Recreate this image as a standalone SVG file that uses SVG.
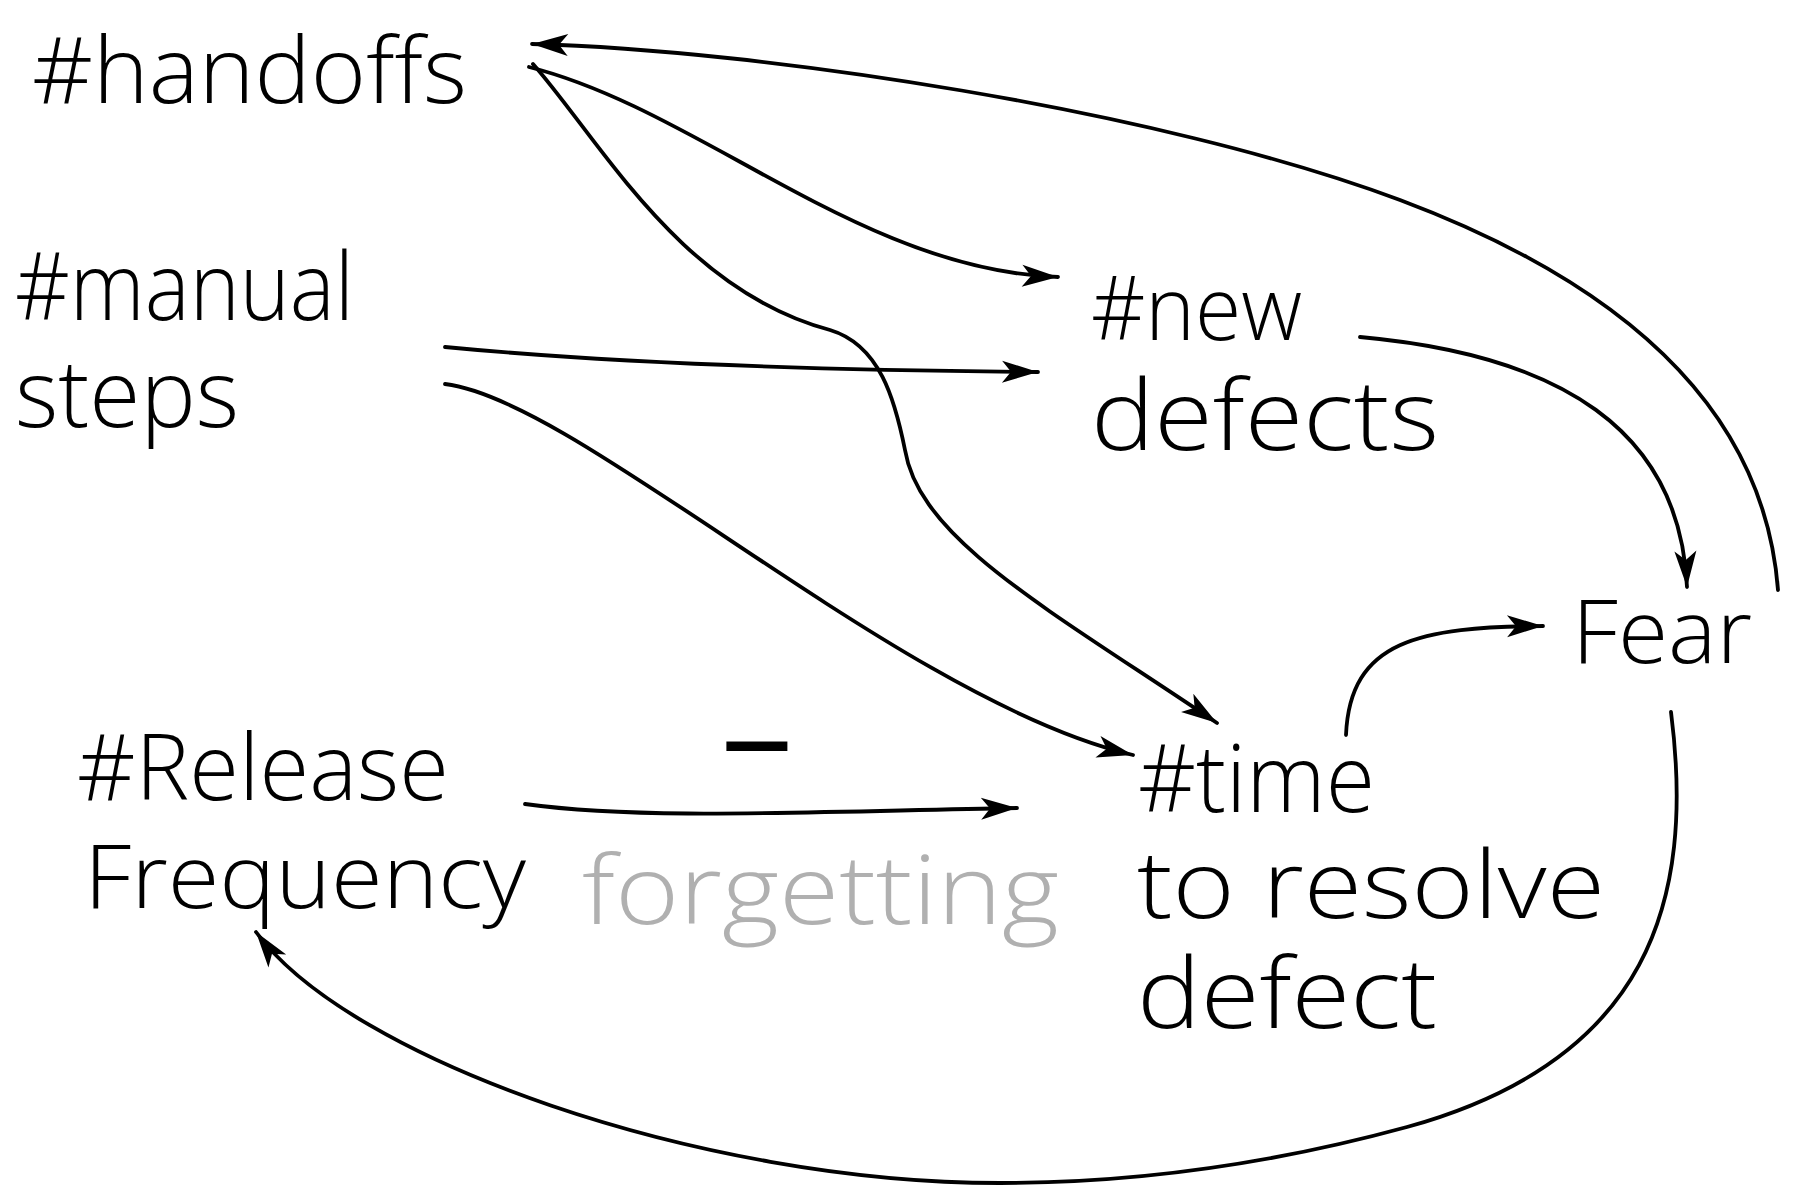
<svg xmlns="http://www.w3.org/2000/svg" width="1797" height="1191" viewBox="0 0 1797 1191">
  <style>
    .lbl { font-family: "Open Sans", "DejaVu Sans", sans-serif; font-weight: 300; fill: #000; }
    .note { font-family: "Open Sans", "DejaVu Sans", sans-serif; font-weight: 300; fill: #b0b0b0; }
    .sign { font-family: "Liberation Sans", Arial, sans-serif; font-weight: bold; fill: #000; }
    .edge { fill: none; stroke: #000; stroke-width: 3.8; stroke-linecap: round; }
    .arrow { marker-end: url(#head); }
  </style>
  <defs>
    <marker id="head" markerUnits="userSpaceOnUse" orient="auto" refX="0" refY="0"
            markerWidth="40" markerHeight="30" viewBox="-40 -15 40 30" overflow="visible">
      <path d="M0,0 L-36,-11 L-27,0 L-36,11 Z" fill="#000"/>
    </marker>
  </defs>
  <rect width="1797" height="1191" fill="#fff"/>

  <!-- connectors -->
  <g id="connectors">
    <!-- Fear -> #handoffs -->
    <path class="edge arrow" d="M1778,590 C1765,420 1640,290 1400,200 C1160,110 760,50 532,44"/>
    <!-- #handoffs -> #new defects -->
    <path class="edge arrow" d="M529,67 C700,110 860,270 1058,277"/>
    <!-- #handoffs -> #time to resolve defect -->
    <path class="edge arrow" d="M533,64 C600,140 680,290 830,330 C880,345 895,400 905,450 C920,540 1050,610 1217,723"/>
    <!-- #manual steps -> #new defects -->
    <path class="edge arrow" d="M445,347 C600,362 800,370 1038,372"/>
    <!-- #manual steps -> #time to resolve defect -->
    <path class="edge arrow" d="M445,384 C580,400 900,700 1133,755"/>
    <!-- #Release Frequency -> #time to resolve defect (forgetting) -->
    <path class="edge arrow" d="M525,804 C640,820 800,812 1017,808"/>
    <!-- #time to resolve defect -> Fear -->
    <path class="edge arrow" d="M1346,735 C1350,640 1420,627 1543,626"/>
    <!-- #new defects -> Fear -->
    <path class="edge arrow" d="M1360,337 C1560,355 1680,430 1687,587"/>
    <!-- Fear -> #Release Frequency -->
    <path class="edge arrow" d="M1671,712 C1695,900 1650,1060 1407,1127 C1290,1159 1150,1183 1000,1183 C700,1183 350,1060 256,932"/>
  </g>

  <!-- nodes -->
  <g id="node-handoffs">
    <text class="lbl" x="32" y="103" font-size="92" textLength="435" lengthAdjust="spacingAndGlyphs">#handoffs</text>
  </g>
  <g id="node-manual-steps">
    <text class="lbl" x="15" y="320" font-size="94" textLength="339" lengthAdjust="spacingAndGlyphs">#manual</text>
    <text class="lbl" x="15" y="427" font-size="94" textLength="224" lengthAdjust="spacingAndGlyphs">steps</text>
  </g>
  <g id="node-new-defects">
    <text class="lbl" x="1091" y="340" font-size="88" textLength="211" lengthAdjust="spacingAndGlyphs">#new</text>
    <text class="lbl" x="1091" y="450" font-size="98" textLength="348" lengthAdjust="spacingAndGlyphs">defects</text>
  </g>
  <g id="node-fear">
    <text class="lbl" x="1572" y="663" font-size="88" textLength="180" lengthAdjust="spacingAndGlyphs">Fear</text>
  </g>
  <g id="node-time-to-resolve">
    <text class="lbl" x="1138" y="812" font-size="94" textLength="237" lengthAdjust="spacingAndGlyphs">#time</text>
    <text class="lbl" x="1137" y="918" font-size="94" textLength="468" lengthAdjust="spacingAndGlyphs">to resolve</text>
    <text class="lbl" x="1137" y="1028" font-size="98" textLength="300" lengthAdjust="spacingAndGlyphs">defect</text>
  </g>
  <g id="node-release-frequency">
    <text class="lbl" x="77" y="800" font-size="92" textLength="372" lengthAdjust="spacingAndGlyphs">#Release</text>
    <text class="lbl" x="84" y="908" font-size="88" textLength="442" lengthAdjust="spacingAndGlyphs">Frequency</text>
  </g>

  <!-- link label -->
  <g id="label-forgetting">
    <text class="sign" x="717" y="767" font-size="80" textLength="80" lengthAdjust="spacingAndGlyphs">-</text>
    <text class="note" x="582" y="924" font-size="96" textLength="477" lengthAdjust="spacingAndGlyphs">forgetting</text>
  </g>
</svg>
